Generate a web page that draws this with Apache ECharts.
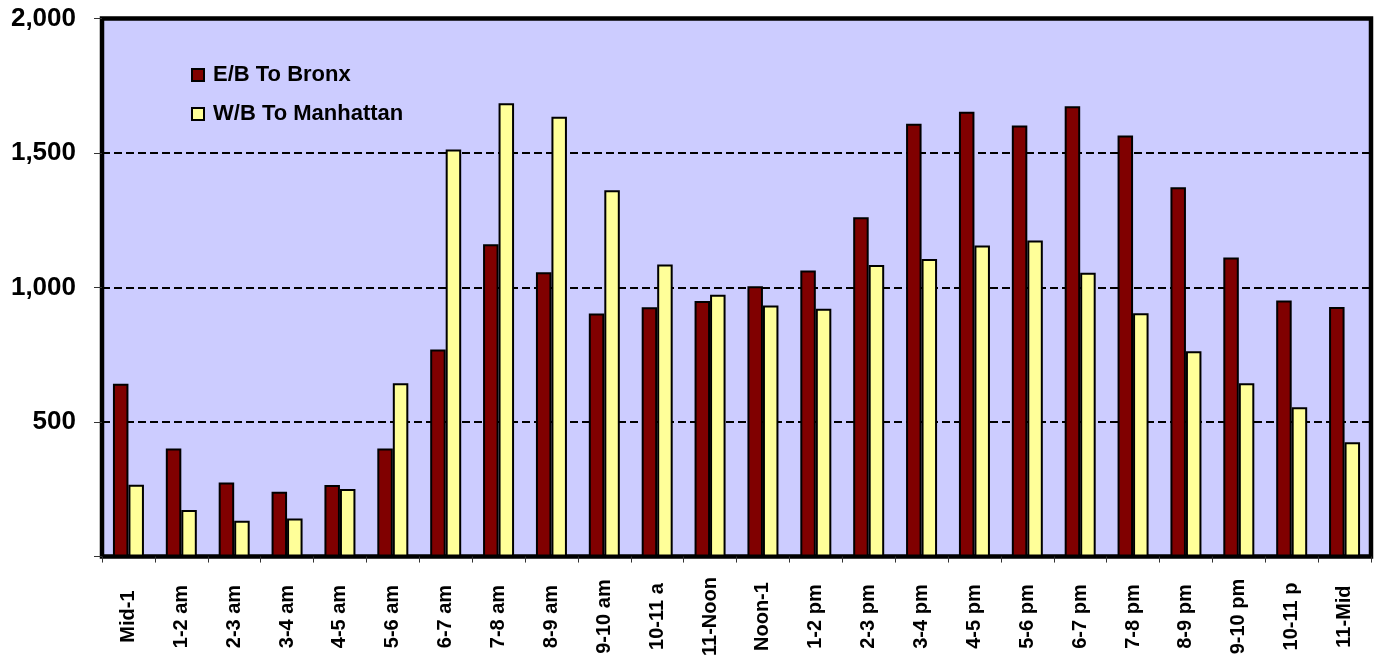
<!DOCTYPE html>
<html lang="en">
<style>
  html, body {
    margin: 0;
    padding: 0;
    background: #fff;
  }

  #container {
    width: 1379px;
    height: 659px;
  }
</style>

<head>
  <meta charset="UTF-8">
  <script src="https://cdn.jsdelivr.net/npm/echarts@6/dist/echarts.min.js"></script>
</head>

<body>
  <div id="container"></div>
  <script>
    // hour blocks
    var hours = ['Mid-1', '1-2 am', '2-3 am', '3-4 am', '4-5 am', '5-6 am', '6-7 am', '7-8 am',
      '8-9 am', '9-10 am', '10-11 a', '11-Noon', 'Noon-1', '1-2 pm', '2-3 pm', '3-4 pm',
      '4-5 pm', '5-6 pm', '6-7 pm', '7-8 pm', '8-9 pm', '9-10 pm', '10-11 p', '11-Mid'];

    // E/B To Bronx
    var eastbound = [642, 402, 275, 241, 266, 402, 770, 1161, 1057, 903, 927, 950,
      1005, 1063, 1261, 1609, 1653, 1602, 1674, 1565, 1373, 1112, 952, 928];

    // W/B To Manhattan
    var westbound = [267, 173, 133, 141, 251, 644, 1513, 1685, 1635, 1362, 1086, 973,
      933, 921, 1084, 1106, 1156, 1175, 1055, 904, 763, 644, 555, 425];

    var yTicks = [0, 500, 1000, 1500, 2000];

    var font = 'Arial, "Liberation Sans", sans-serif';

    var myChart = echarts.init(document.getElementById('container'));

    var option = {
      animation: false,
      textStyle: { fontFamily: font },
      legend: {
        orient: 'vertical',
        left: 186,
        top: 59,
        itemWidth: 12,
        itemHeight: 12,
        itemGap: 17,
        icon: 'rect',
        textStyle: {
          fontFamily: font,
          fontSize: 22,
          fontWeight: 'bold',
          color: '#000',
          lineHeight: 22,
          padding: [0, 0, 0, 4]
        },
        data: ['E/B To Bronx', 'W/B To Manhattan']
      },
      grid: {
        show: true,
        left: 102,
        right: 8,
        top: 18.5,
        bottom: 102,
        backgroundColor: '#ccccff',
        borderColor: '#000',
        borderWidth: 4.5
      },
      xAxis: {
        type: 'category',
        data: hours,
        axisLine: { show: true, lineStyle: { color: '#000', width: 3 } },
        axisTick: { show: true, length: 6, lineStyle: { color: '#333', width: 1 } },
        axisLabel: {
          rotate: 90,
          align: 'center',
          verticalAlign: 'middle',
          margin: 60,
          interval: 0,
          fontFamily: font,
          fontSize: 20,
          fontWeight: 'bold',
          color: '#000'
        }
      },
      yAxis: {
        type: 'value',
        min: yTicks[0],
        max: yTicks[yTicks.length - 1],
        interval: 500,
        axisLine: { show: false },
        axisTick: { show: true, length: 8, lineStyle: { color: '#333', width: 1 } },
        axisLabel: {
          margin: 26,
          fontFamily: font,
          fontSize: 26,
          fontWeight: 'bold',
          color: '#000',
          formatter: function (v) {
            return v === 0 ? '' : v.toLocaleString('en-US');
          }
        },
        splitLine: {
          show: true,
          showMinLine: false,
          showMaxLine: false,
          lineStyle: { color: '#000', width: 2, type: [8, 4] }
        }
      },
      series: [
        {
          name: 'E/B To Bronx',
          type: 'bar',
          data: eastbound,
          barWidth: 15.5,
          barGap: '0%',
          itemStyle: { color: '#800000', borderColor: '#000', borderWidth: 2 }
        },
        {
          name: 'W/B To Manhattan',
          type: 'bar',
          data: westbound,
          barWidth: 15.5,
          itemStyle: { color: '#ffff99', borderColor: '#000', borderWidth: 2 }
        }
      ]
    };

    myChart.setOption(option);
  </script>
</body>

</html>
